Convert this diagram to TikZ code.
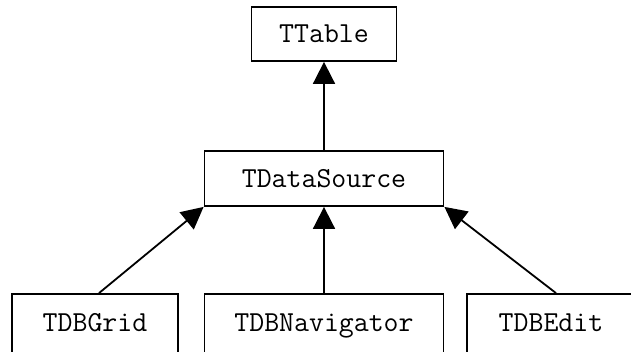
\documentclass[tikz,border=0pt]{standalone}
\usetikzlibrary{arrows.meta}
\tikzset{
  classbox/.style={draw=black, line width=1.8pt, fill=white, inner sep=0pt,
    font=\ttfamily\fontsize{29}{33}\selectfont},
  inherit/.style={draw=black, line width=1.8pt,
    -{Triangle[length=22pt,width=22pt]}}
}
\begin{document}
\begin{tikzpicture}[x=1pt,y=-1pt]
  \useasboundingbox (0,0) rectangle (631,351);
  \clip (0,0) rectangle (631,351);
  \node[classbox, minimum width=145pt, minimum height=54pt] (tt) at (324,34) {TTable};
  \node[classbox, minimum width=239pt, minimum height=55pt] (ds) at (324,178.5) {TDataSource};
  \node[classbox, minimum width=166pt, minimum height=60pt, text depth=3pt] (g) at (95,324) {TDBGrid};
  \node[classbox, minimum width=239pt, minimum height=60pt, text depth=3pt] (n) at (324,324) {TDBNavigator};
  \node[classbox, minimum width=168pt, minimum height=60pt, text depth=3pt] (e) at (551,324) {TDBEdit};
  \draw[inherit] (ds.north) -- (tt.south);
  \draw[inherit] ([xshift=4pt]g.north) -- (ds.south west);
  \draw[inherit] (n.north) -- (ds.south);
  \draw[inherit] ([xshift=5pt]e.north) -- (ds.south east);
\end{tikzpicture}
\end{document}
